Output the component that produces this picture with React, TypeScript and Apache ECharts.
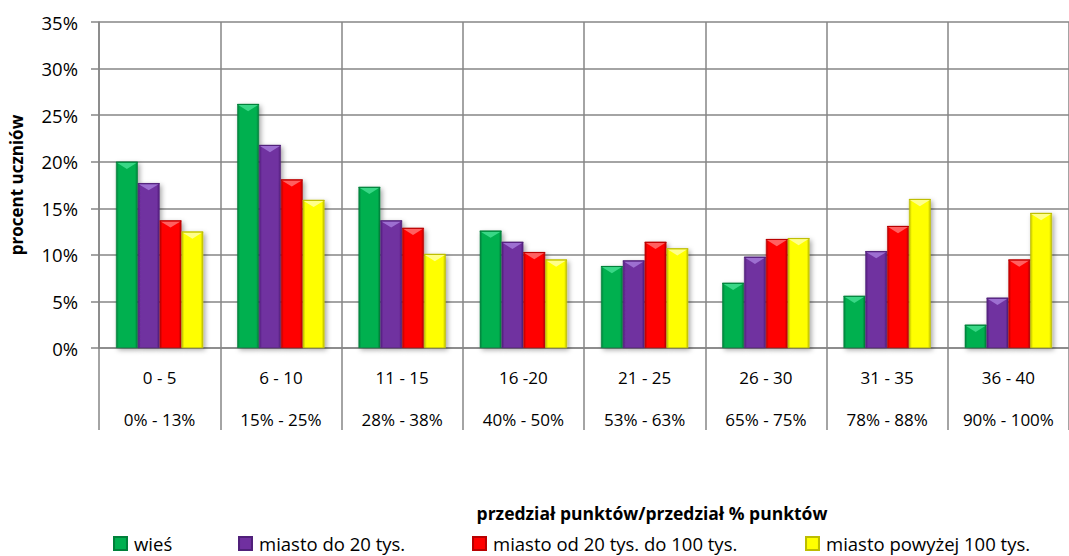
import React, { useEffect, useRef } from "react";
import * as echarts from "echarts";

const categories = ["0 - 5", "6 - 10", "11 - 15", "16 -20", "21 - 25", "26 - 30", "31 - 35", "36 - 40"];
const percentRanges = ["0% - 13%", "15% - 25%", "28% - 38%", "40% - 50%", "53% - 63%", "65% - 75%", "78% - 88%", "90% - 100%"];
const seriesNames = ["wieś", "miasto do 20 tys.", "miasto od 20 tys. do 100 tys.", "miasto powyżej 100 tys."];
const wies = [20.0, 26.2, 17.3, 12.6, 8.8, 7.0, 5.6, 2.5];
const miastoDo20 = [17.7, 21.8, 13.7, 11.4, 9.4, 9.8, 10.4, 5.4];
const miasto20do100 = [13.7, 18.1, 12.9, 10.3, 11.4, 11.7, 13.1, 9.5];
const miastoPow100 = [12.5, 15.9, 10.1, 9.5, 10.7, 11.8, 16.0, 14.5];
const yTicks = [0, 5, 10, 15, 20, 25, 30, 35];

const colors = ["#00B050", "#7030A0", "#FF0000", "#FFFF00"];
const darks = ["#00803A", "#50207A", "#B80000", "#BDBD00"];
const lights = ["#3FDC8C", "#A276D6", "#FF6A6A", "#FFFF9A"];
const FONT = "'Open Sans', 'Noto Sans', sans-serif";
const CAT_GAP = 0.28;

export default function App() {
  const ref = useRef<HTMLDivElement>(null);
  useEffect(() => {
    if (!ref.current) return;
    const chart = echarts.init(ref.current, null, { renderer: "svg" });
    const values = [wies, miastoDo20, miasto20do100, miastoPow100];
    const legendX = [113, 238, 472, 805];
    const grad = (i: number) =>
      new echarts.graphic.LinearGradient(0, 0, 1, 0, [
        { offset: 0, color: darks[i] },
        { offset: 0.12, color: colors[i] },
        { offset: 0.88, color: colors[i] },
        { offset: 1, color: darks[i] },
      ]);
    const barSeries = values.map((d, i) => ({
      name: seriesNames[i],
      type: "bar",
      data: d,
      barGap: "0%",
      barCategoryGap: CAT_GAP * 100 + "%",
      z: 2,
      itemStyle: {
        color: grad(i),
        borderColor: darks[i],
        borderWidth: 0.6,
        shadowColor: "rgba(0,0,0,0.35)",
        shadowBlur: 5,
        shadowOffsetX: 2,
        shadowOffsetY: 2,
      },
    }));
    const bevelSeries = values.map((d, s) => ({
      type: "custom",
      z: 3,
      silent: true,
      data: d.map((v, i) => [i, v]),
      renderItem: (params: any, api: any) => {
        const idx = api.value(0);
        const v = api.value(1);
        const top = api.coord([idx, v]);
        const band = api.size([1, 0])[0];
        const bw = (band * (1 - CAT_GAP)) / 4;
        const x0 = top[0] - (band * (1 - CAT_GAP)) / 2 + s * bw;
        const x1 = x0 + bw;
        const xc = (x0 + x1) / 2;
        const h = bw * 0.33;
        return {
          type: "group",
          children: [
            {
              type: "polygon",
              shape: { points: [[x0 + 1, top[1] + 1], [x1 - 1, top[1] + 1], [xc, top[1] + h]] },
              style: { fill: lights[s], opacity: 0.9 },
            },
            {
              type: "line",
              shape: { x1: x0, y1: top[1] + 0.5, x2: x1, y2: top[1] + 0.5 },
              style: { stroke: darks[s], lineWidth: 1 },
            },
          ],
        };
      },
    }));
    chart.setOption({
      animation: false,
      backgroundColor: "#ffffff",
      grid: { left: 96, top: 22, width: 986, height: 326 },
      xAxis: {
        type: "category",
        data: categories.map((c, i) => c + "\n" + percentRanges[i]),
        boundaryGap: true,
        axisLine: { show: true, lineStyle: { color: "#868686", width: 1.5 } },
        axisTick: { show: true, length: 82, lineStyle: { color: "#868686", width: 1.5 } },
        splitLine: { show: true, lineStyle: { color: "#868686", width: 1.5 } },
        axisLabel: {
          color: "#000",
          fontFamily: FONT,
          fontSize: 17,
          lineHeight: 42,
          margin: 8,
          interval: 0,
        },
      },
      yAxis: {
        type: "value",
        min: 0,
        max: 35,
        interval: 5,
        name: "procent uczniów",
        nameLocation: "middle",
        nameGap: 74,
        nameRotate: 90,
        nameTextStyle: { color: "#000", fontFamily: FONT, fontSize: 17, fontWeight: "bold" },
        axisLine: { show: true, lineStyle: { color: "#868686", width: 1.5 } },
        axisTick: { show: true, length: 8, lineStyle: { color: "#868686", width: 1.5 } },
        splitLine: { show: true, lineStyle: { color: "#868686", width: 1.5 } },
        axisLabel: {
          color: "#000",
          fontFamily: FONT,
          fontSize: 18.5,
          margin: 21,
          formatter: (v: number) => (yTicks.includes(v) ? v + "%" : ""),
        },
      },
      legend: seriesNames.map((n, i) => ({
        data: [{ name: n, icon: "rect" }],
        left: legendX[i],
        top: 534,
        itemWidth: 13,
        itemHeight: 13,
        itemGap: 4,
        padding: 0,
        selectedMode: false,
        textStyle: { color: "#000", fontFamily: FONT, fontSize: 18.5, lineHeight: 18, padding: [0, 0, 0, 2] },
      })),
      graphic: [
        {
          type: "text",
          x: 652,
          y: 513,
          style: {
            text: "przedział punktów/przedział % punktów",
            fill: "#000",
            font: `bold 17.5px ${FONT}`,
            align: "center",
            verticalAlign: "middle",
          },
        },
      ],
      series: [...barSeries, ...bevelSeries],
    });
    return () => chart.dispose();
  }, []);
  return (
    <div
      ref={ref}
      style={{ position: "absolute", left: 0, top: 0, width: 1069, height: 556 }}
    />
  );
}
